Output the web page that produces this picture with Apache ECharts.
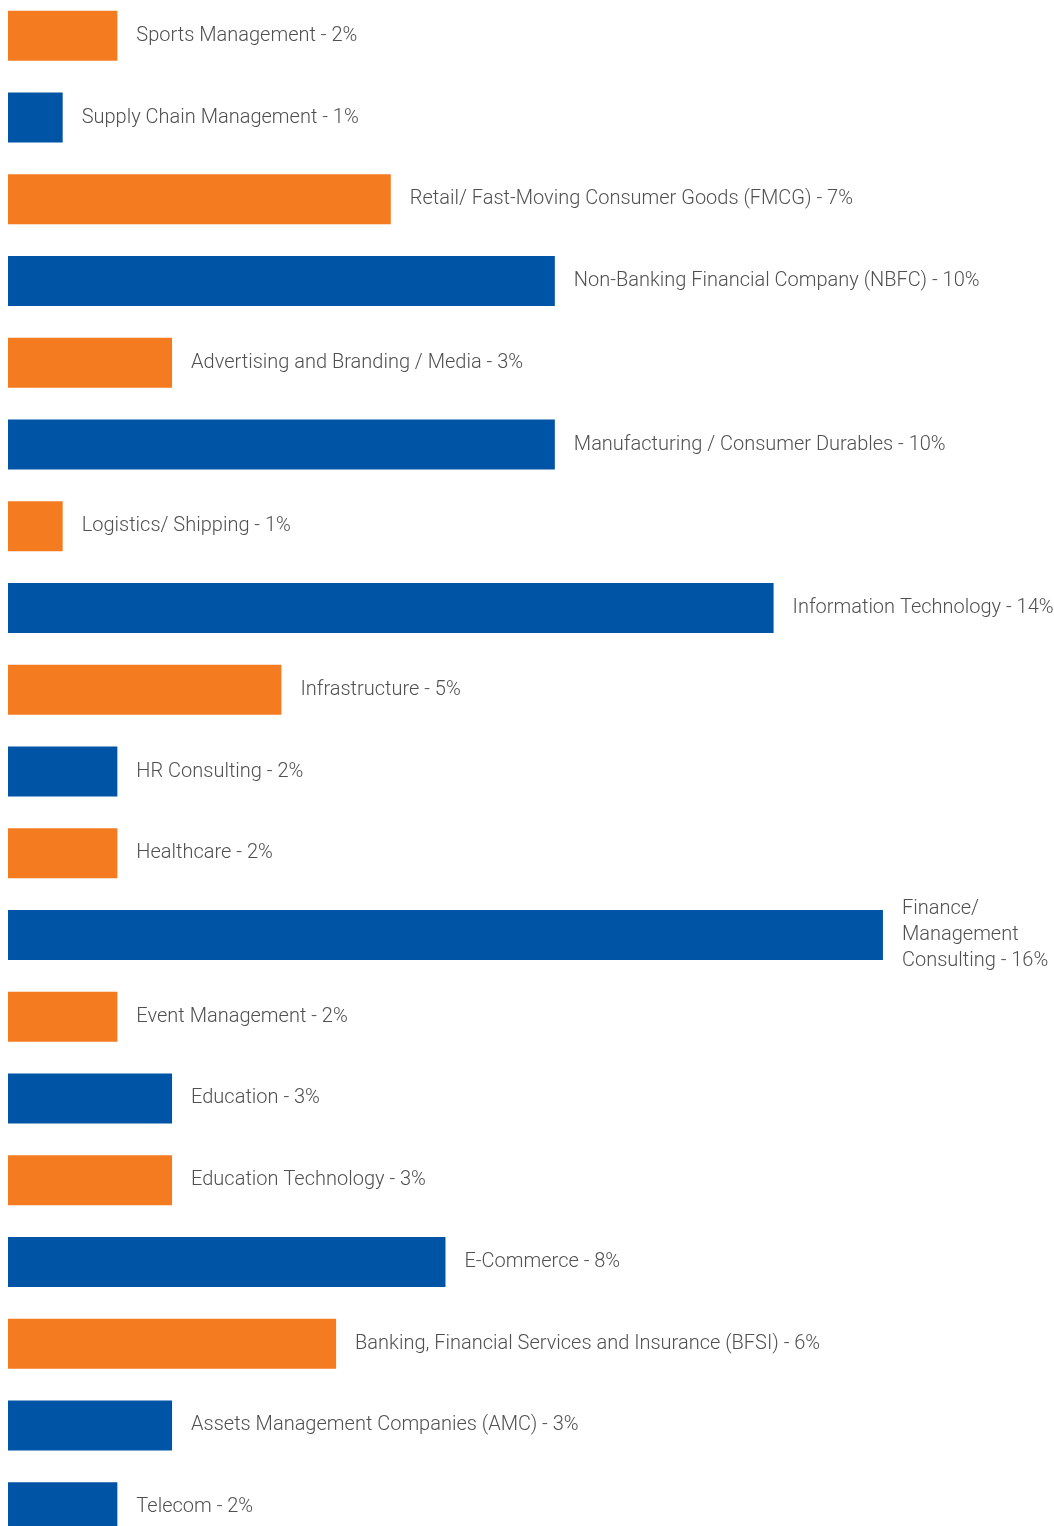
<!DOCTYPE html>
<html>
<head>
<meta charset="utf-8">
<script src="https://cdn.jsdelivr.net/npm/echarts@6/dist/echarts.min.js"></script>
<style>
html,body{margin:0;padding:0;background:#fff;}
#c{width:1054px;height:1526px;}
</style>
</head>
<body>
<div id="c"></div>
<script>
const categories = [
  "Sports Management",
  "Supply Chain Management",
  "Retail/ Fast-Moving Consumer Goods (FMCG)",
  "Non-Banking Financial Company (NBFC)",
  "Advertising and Branding / Media",
  "Manufacturing / Consumer Durables",
  "Logistics/ Shipping",
  "Information Technology",
  "Infrastructure",
  "HR Consulting",
  "Healthcare",
  "Finance/\nManagement\nConsulting",
  "Event Management",
  "Education",
  "Education Technology",
  "E-Commerce",
  "Banking, Financial Services and Insurance (BFSI)",
  "Assets Management Companies (AMC)",
  "Telecom"
];
const values = [2, 1, 7, 10, 3, 10, 1, 14, 5, 2, 2, 16, 2, 3, 3, 8, 6, 3, 2];
const colorKeys = ["o","b","o","b","o","b","o","b","o","b","o","b","o","b","o","b","o","b","b"];
const palette = { o: "#F47B20", b: "#0054A6" };

const chart = echarts.init(document.getElementById('c'));
chart.setOption({
  animation: false,
  backgroundColor: '#ffffff',
  grid: { left: 8, width: 1039, top: -5, height: 1553, containLabel: false, outerBoundsMode: 'none' },
  xAxis: {
    type: 'value', min: 0, max: 19,
    show: false
  },
  yAxis: {
    type: 'category', data: categories, inverse: true,
    show: false
  },
  series: [{
    type: 'bar',
    barWidth: 50,
    data: values.map((v, i) => ({ value: v, itemStyle: { color: palette[colorKeys[i]] } })),
    label: {
      show: true,
      position: 'right',
      distance: 19,
      color: '#505050',
      fontFamily: 'Roboto',
      fontWeight: 300,
      fontSize: 20,
      lineHeight: 26,
      formatter: p => categories[p.dataIndex] + ' - ' + p.value + '%'
    }
  }]
});
</script>
</body>
</html>
